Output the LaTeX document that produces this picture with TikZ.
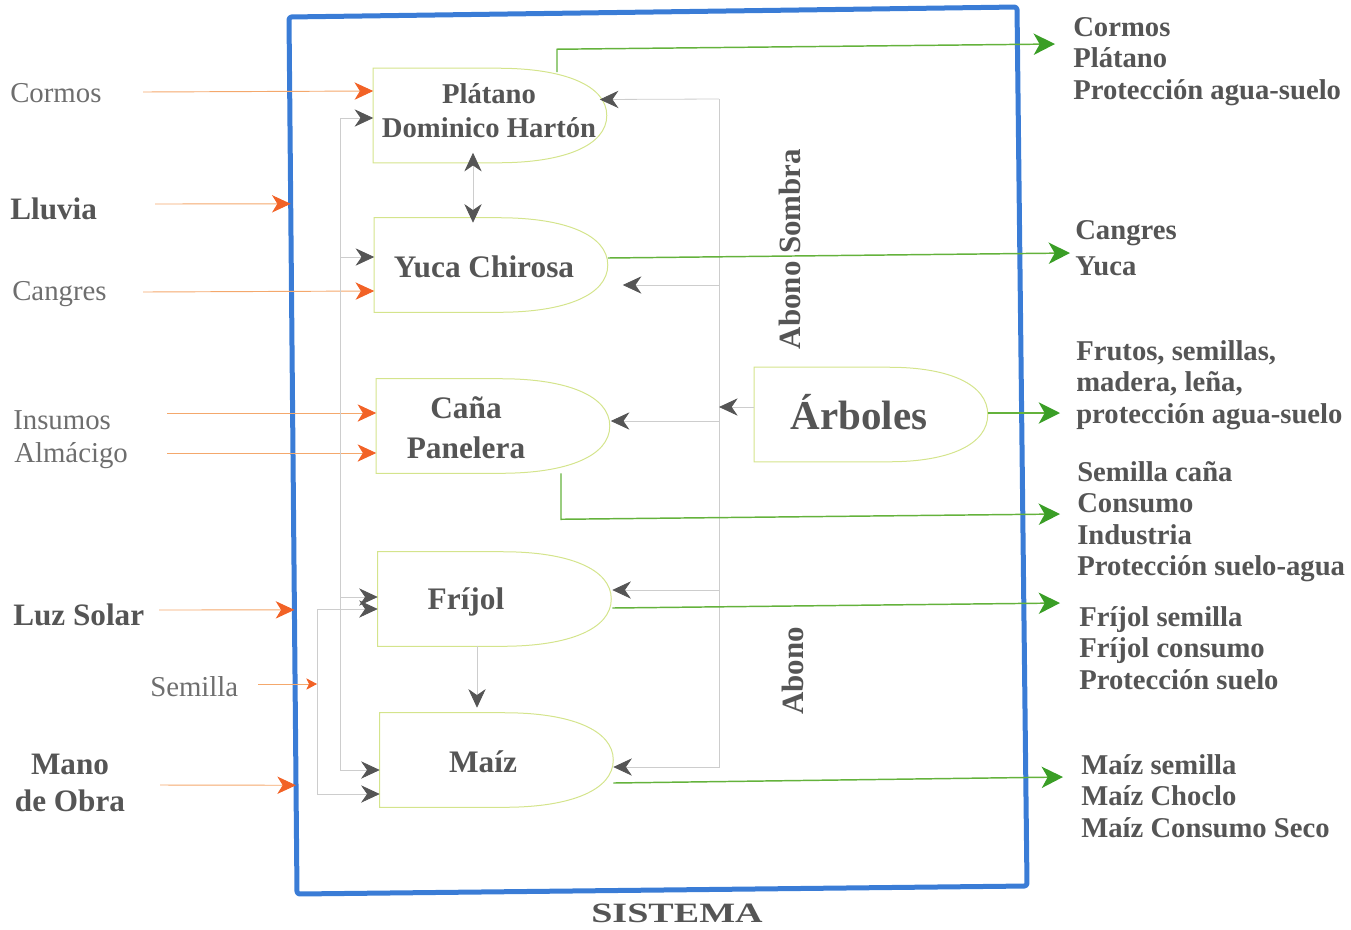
\documentclass[tikz,border=0pt]{standalone}
\usepackage{fontspec}
\setmainfont{Liberation Serif}
\usepackage{graphicx}
\usepackage{tikz}
\usetikzlibrary{arrows.meta,calc}
\definecolor{txtgray}{RGB}{85,85,85}
\definecolor{lbgray}{RGB}{110,110,110}
\definecolor{sysblue}{RGB}{58,124,214}
\definecolor{limeline}{RGB}{212,228,140}
\definecolor{feedgray}{RGB}{205,205,205}
\definecolor{tipgray}{RGB}{85,85,85}
\definecolor{inorange}{RGB}{242,98,38}
\definecolor{inline}{RGB}{244,168,108}
\definecolor{outgreen}{RGB}{58,158,38}
\definecolor{outgreenl}{RGB}{100,178,60}

\begin{document}
\begin{tikzpicture}[x=0.75pt,y=0.75pt,yscale=-1,xscale=1,
    sysline/.style={draw=sysblue, line width=3.75pt, rounded corners=2pt, line join=round},
    cultivo/.style={rectangle, minimum width=174.75pt, minimum height=70.5pt, inner sep=0pt},
    cultline/.style={draw=limeline, line width=0.75pt},
    cultxt/.style={inner sep=0pt, align=center, text=txtgray, font=\bfseries\fontsize{23.5}{30}\selectfont},
    intxt/.style={anchor=west, inner sep=0pt, text=lbgray, font=\fontsize{21.6}{27}\selectfont},
    inbold/.style={anchor=west, inner sep=0pt, text=txtgray, font=\bfseries\fontsize{23.4}{28}\selectfont},
    outtxt/.style={anchor=west, inner sep=0pt, align=left, text=txtgray, font=\bfseries\fontsize{21.5}{23.6}\selectfont},
    abtxt/.style={inner sep=0pt, rotate=90, text=txtgray, font=\bfseries\fontsize{23.2}{28}\selectfont},
    inarrow/.style={draw=inline, line width=0.7pt, -{Stealth[length=14pt,width=13pt,inset=4pt,color=inorange]}},
    semtip/.style={-{Stealth[length=8pt,width=8.5pt,inset=2pt,color=inorange]}},
    feed/.style={draw=feedgray, line width=0.6pt, -{Stealth[length=14pt,width=13pt,inset=4.5pt,color=tipgray]}},
    feedboth/.style={draw=feedgray, line width=0.6pt, {Stealth[length=14pt,width=13pt,inset=4.5pt,color=tipgray]}-{Stealth[length=14pt,width=13pt,inset=4.5pt,color=tipgray]}},
    outarrow/.style={draw=outgreenl, line width=1.1pt, -{Stealth[length=16pt,width=16pt,inset=4.5pt,color=outgreen]}}
  ]
    \useasboundingbox (0,0) rectangle (1351,929);

    %Shape: System boundary
    \coordinate (sysNW) at (289,17);
    \coordinate (sysNE) at (1017,7);
    \coordinate (sysSE) at (1027,886);
    \coordinate (sysSW) at (297,894);
    \draw[sysline] (sysNW) -- (sysNE) -- (sysSE) -- (sysSW) -- cycle;

    %Shape: crops
    \node[cultivo] (platano) at (490,115.5) {};
    \node[cultivo] (yuca) at (491,265) {};
    \node[cultivo] (cana) at (493,426) {};
    \node[cultivo] (frijol) at (494.5,599) {};
    \node[cultivo] (maiz) at (496.5,760) {};
    \node[cultivo] (arboles) at (871,414.5) {};
    \draw[cultline] (platano.south west) -- (platano.north west) -- ++(125,0) .. controls +(66,0) and +(0,-30) .. (platano.east) .. controls +(0,30) and +(66,0) .. ($(platano.south west)+(125,0)$) -- cycle;
    \draw[cultline] (yuca.south west) -- (yuca.north west) -- ++(125,0) .. controls +(66,0) and +(0,-30) .. (yuca.east) .. controls +(0,30) and +(66,0) .. ($(yuca.south west)+(125,0)$) -- cycle;
    \draw[cultline] (cana.south west) -- (cana.north west) -- ++(125,0) .. controls +(66,0) and +(0,-30) .. (cana.east) .. controls +(0,30) and +(66,0) .. ($(cana.south west)+(125,0)$) -- cycle;
    \draw[cultline] (frijol.south west) -- (frijol.north west) -- ++(125,0) .. controls +(66,0) and +(0,-30) .. (frijol.east) .. controls +(0,30) and +(66,0) .. ($(frijol.south west)+(125,0)$) -- cycle;
    \draw[cultline] (maiz.south west) -- (maiz.north west) -- ++(125,0) .. controls +(66,0) and +(0,-30) .. (maiz.east) .. controls +(0,30) and +(66,0) .. ($(maiz.south west)+(125,0)$) -- cycle;
    \draw[cultline] (arboles.south west) -- (arboles.north west) -- ++(135,0) .. controls +(60,0) and +(0,-30) .. (arboles.east) .. controls +(0,30) and +(60,0) .. ($(arboles.south west)+(135,0)$) -- cycle;

    % Text Node
    \node[cultxt, font=\bfseries\fontsize{21.5}{25.5}\selectfont] (platanoTxt) at ($(platano)+(-1,-5)$) {Plátano\\Dominico Hartón};
    \node[cultxt] (yucaTxt) at ($(yuca)+(-7,2)$) {Yuca Chirosa};
    \node[cultxt] (canaTxt) at ($(cana)+(-27,2)$) {Caña\\Panelera};
    \node[cultxt] (frijolTxt) at ($(frijol)+(-28.5,3)$) {Fríjol};
    \node[cultxt] (maizTxt) at ($(maiz)+(-13.5,2)$) {Maíz};
    \node[cultxt, font=\bfseries\fontsize{30.75}{36}\selectfont] (arbolesTxt) at ($(arboles)+(-12,-2.5)$) {Árboles};

    % Text Node: inputs
    \node[intxt] (cormosIn) at (10,93) {Cormos};
    \node[inbold] (lluvia) at (10,209) {Lluvia};
    \node[intxt] (cangresIn) at (12,294) {Cangres};
    \node[intxt] (insumos) at (13,420) {Insumos};
    \node[intxt] (almacigo) at (14,456) {Almácigo};
    \node[inbold] (luzSolar) at (13,615) {Luz Solar};
    \node[intxt] (semilla) at (150,687) {Semilla};
    \node[inbold, anchor=center, align=center] (manoObra) at (70,783) {Mano\\de Obra};

    %Straight Lines: inputs
    \draw[inarrow] ($(cormosIn.west)+(133,-1)$) -- ($(platano.west)+(0,-24.5)$);
    \draw[inarrow] ($(lluvia.west)+(145,-5)$) -- ($(sysNW)!0.213!(sysSW)$);
    \draw[inarrow] ($(cangresIn.west)+(131,-2)$) -- ($(yuca.west)+(0,26)$);
    \draw[inarrow] ($(insumos.west)+(154,-7)$) -- ($(cana.west)+(0,-13)$);
    \draw[inarrow] ($(almacigo.west)+(153,-3)$) -- ($(cana.west)+(0,27)$);
    \draw[inarrow] ($(luzSolar.west)+(146,-5)$) -- ($(sysNW)!0.676!(sysSW)$);
    \draw[inarrow] ($(manoObra)+(90,2)$) -- ($(sysNW)!0.876!(sysSW)$);

    %Straight Lines: internal flows
    \coordinate (busA) at (340,118);
    \coordinate (busB) at (317,609);
    \coordinate (busR) at (719,99);
    \draw[inarrow, semtip] ($(semilla.west)+(108,-3)$) -- ($(semilla.west -| busB)+(0,-3)$);
    \draw[feed] (busA) -- ($(platano.west)+(0,2.5)$);
    \draw[feed] (busA) |- ($(maiz.west)+(0,10)$);
    \coordinate (yucaL) at ($(yuca.west)+(0,-8)$);
    \draw[feed] (busA |- yucaL) -- (yucaL);
    \coordinate (frijolL) at ($(frijol.west)+(0,-2)$);
    \draw[feed] (busA |- frijolL) -- (frijolL);
    \draw[feed] (busB) -- ($(frijol.west)+(0,10)$);
    \draw[feed] (busB) |- ($(maiz.west)+(0,34)$);

    \draw[feed] (busR) -- ($(platano.east)+(-7,-16)$);
    \draw[feed] (busR) |- ($(maiz.east)+(0,7)$);
    \coordinate (yucaR) at ($(yuca.east)+(15,20)$);
    \draw[feed] (busR |- yucaR) -- (yucaR);
    \coordinate (canaR) at ($(cana.east)+(1,-5)$);
    \draw[feed] (busR |- canaR) -- (canaR);
    \coordinate (frijolR) at ($(frijol.east)+(1,-9)$);
    \draw[feed] (busR |- frijolR) -- (frijolR);
    \draw[feed] ($(arboles.west)+(0,-7.5)$) -- ($(arboles.west -| busR)+(0,-7.5)$);

    \draw[feedboth] ($(platano.south)+(-17,-10)$) -- ($(yuca.north)+(-18,5)$);
    \draw[feed] ($(frijol.south)+(-17.5,0)$) -- ($(maiz.north)+(-19.5,-5)$);

    % Text Node: outputs
    \node[outtxt] (outPlatano) at (1073,61.5) {Cormos\\Plátano\\Protección agua-suelo};
    \node[outtxt, font=\bfseries\fontsize{21.5}{27}\selectfont] (outYuca) at (1075,248) {Cangres\\Yuca};
    \node[outtxt] (outArboles) at (1076,385) {Frutos, semillas,\\madera, leña,\\protección agua-suelo};
    \node[outtxt] (outCana) at (1077,521.5) {Semilla caña\\Consumo\\Industria\\Protección suelo-agua};
    \node[outtxt] (outFrijol) at (1079,648) {Fríjol semilla\\Fríjol consumo\\Protección suelo};
    \node[outtxt] (outMaiz) at (1081,796) {Maíz semilla\\Maíz Choclo\\Maíz Consumo Seco};

    %Straight Lines: outputs
    \draw[outarrow] ($(platano.north)+(67,4)$) -- ++(0,-23) -- ($(outPlatano.west)+(-18,-17.5)$);
    \draw[outarrow] ($(yuca.east)+(0,-7)$) -- ($(outYuca.west)+(-5,5)$);
    \draw[outarrow] ($(arboles.east)+(0,-1.5)$) -- ($(outArboles.west)+(-16,28)$);
    \draw[outarrow] ($(cana.south)+(68,0)$) -- ++(0,46) -- ($(outCana.west)+(-17,-7.5)$);
    \draw[outarrow] ($(frijol.east)+(1,9)$) -- ($(outFrijol.west)+(-19,-45)$);
    \draw[outarrow] ($(maiz.east)+(0,23)$) -- ($(outMaiz.west)+(-18,-19)$);

    % Text Node
    \node[abtxt] (abonoSombra) at (790,249) {Abono Sombra};
    \node[abtxt] (abono) at (793,671) {Abono};
    \node[inner sep=0pt, text=txtgray, font=\bfseries\fontsize{21}{23}\selectfont] (sistema) at (677,913) {\scalebox{1.36}[1]{SISTEMA}};

\end{tikzpicture}
\end{document}
